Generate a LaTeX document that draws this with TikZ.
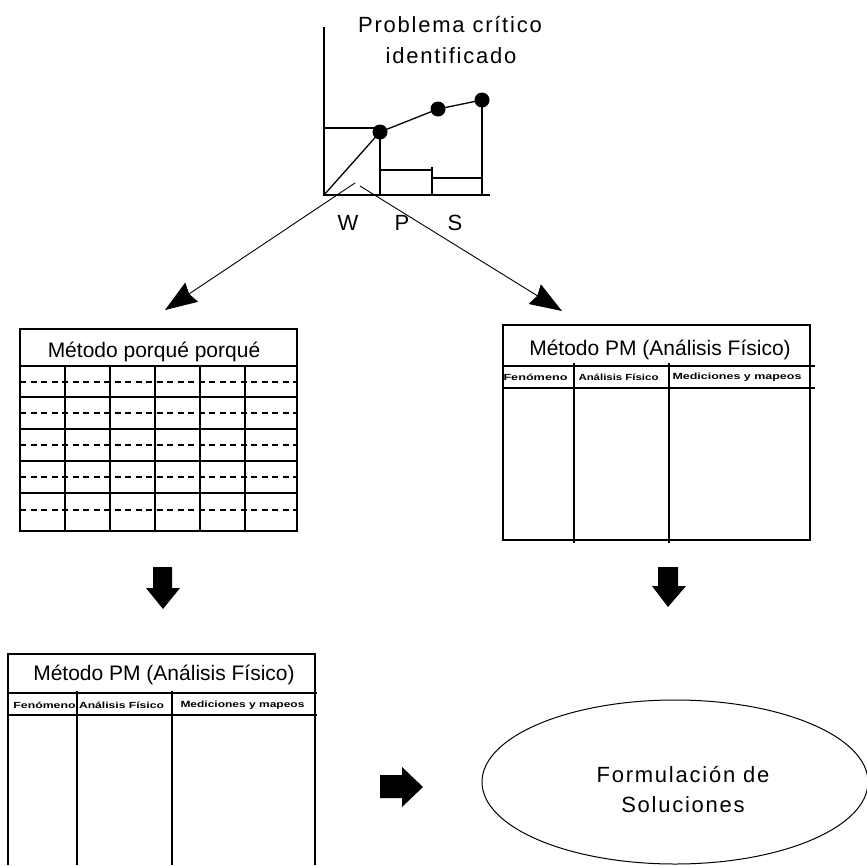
\documentclass[tikz,border=0pt]{standalone}
\usepackage{fontspec}
\setmainfont{Liberation Sans}
\newfontfamily\spacedsans[LetterSpace=8]{Liberation Sans}
\usetikzlibrary{arrows.meta,shapes.geometric}

% tiny stretched header text of the analysis tables
\newcommand{\hdrtext}[2]{\resizebox{#1}{6.5pt}{\bfseries #2}}

\begin{document}
\begin{tikzpicture}[x=1pt,y=-1pt,
  gridline/.style={line width=1.6pt},
  chartline/.style={line width=1.3pt},
  rowdash/.style={line width=1.2pt,dash pattern=on 6pt off 4.5pt},
  conn/.style={line width=0.9pt,-{Stealth[length=32pt,width=23pt,inset=3pt]}},
  dotmark/.style={circle,fill=black,inner sep=0pt,minimum size=15pt},
  ttl/.style={font=\fontsize{21}{25}\selectfont,inner sep=0pt,anchor=base},
  bigtxt/.style={font=\spacedsans\fontsize{22}{26}\selectfont,inner sep=0pt,anchor=base},
  hdr/.style={inner sep=0pt},
  blockarrow/.style={fill=black}]

\useasboundingbox (0,0) rectangle (867,865);

% ---------- chart of the critical problem ----------
\node[bigtxt] (prob1) at (450,32) {Problema crítico};
\node[bigtxt] (prob2) at (451,63) {identificado};

\coordinate (O) at (324,195);
\draw[chartline] (324,27) -- (O) -- (490,195);
\node[dotmark] (d1) at (380,132) {};
\node[dotmark] (d2) at (438,109) {};
\node[dotmark] (d3) at (482,100) {};
\draw[chartline] (324,128) -- (380,128);
\draw[chartline] (O) -- (d1.center) -- (d2.center) -- (d3.center);
\draw[chartline] (d1.center) -- (380,195);
\draw[chartline] (d3.center) -- (482,195);
\draw[chartline] (380,170) -- (432,170);
\draw[chartline] (432,167) -- (432,195);
\draw[chartline] (432,178) -- (482,178);

\node[bigtxt] (W) at (348,230) {W};
\node[bigtxt] (P) at (402,230) {P};
\node[bigtxt] (S) at (455,230) {S};

% ---------- branch arrows ----------
\coordinate (lstart) at (355,183);
\coordinate (ltip) at (165,310);
\coordinate (rstart) at (360,186);
\coordinate (rtip) at (562,311);
\draw[conn] (lstart) -- (ltip);
\draw[conn] (rstart) -- (rtip);

% ---------- why-why table ----------
\draw[gridline] (20,329) rectangle (297,531);
\foreach \y in {366,397,429,461,493} \draw[gridline] (20,\y) -- (297,\y);
\foreach \x in {65,110,155,200,245} \draw[gridline] (\x,366) -- (\x,531);
\foreach \y in {382,413,445,477,510} \draw[rowdash] (20,\y) -- (297,\y);
\node[ttl] (why) at (154,357) {Método porqué porqué};

% ---------- PM analysis table (right) ----------
\draw[gridline] (503,325) rectangle (810,540);
\draw[gridline] (503,366) -- (815,366);
\draw[gridline] (503,388) -- (815,388);
\draw[gridline] (574,363) -- (574,543);
\draw[gridline] (669,363) -- (669,543);
\node[ttl] (pmr) at (660,355) {Método PM (Análisis Físico)};
\node[hdr] (pmrA) at (535.5,377) {\hdrtext{64pt}{Fenómeno}};
\node[hdr] (pmrB) at (618.5,377) {\hdrtext{80pt}{Análisis Físico}};
\node[hdr] (pmrC) at (737,377) {\hdrtext{129pt}{Mediciones y mapeos}};

% ---------- PM analysis table (bottom left) ----------
\draw[gridline] (8,865) -- (8,654) -- (315,654) -- (315,865);
\draw[gridline] (8,693) -- (317,693);
\draw[gridline] (8,715) -- (317,715);
\draw[gridline] (77,691) -- (77,865);
\draw[gridline] (172,691) -- (172,865);
\node[ttl] (pml) at (164,680) {Método PM (Análisis Físico)};
\node[hdr] (pmlA) at (44.5,705) {\hdrtext{62pt}{Fenómeno}};
\node[hdr] (pmlB) at (121.5,705) {\hdrtext{85pt}{Análisis Físico}};
\node[hdr] (pmlC) at (242.5,705) {\hdrtext{124pt}{Mediciones y mapeos}};

% ---------- block arrows ----------
\fill[blockarrow] (153,567) -- (172,567) -- (172,588) -- (180,588) -- (163,609)
  -- (146,588) -- (153,588) -- cycle;
\fill[blockarrow] (658,567) -- (678,567) -- (678,586) -- (686,586) -- (668,607)
  -- (652,586) -- (658,586) -- cycle;
\fill[blockarrow] (380,775) -- (402,775) -- (402,767) -- (423,787) -- (402,807)
  -- (402,798) -- (380,798) -- cycle;

% ---------- solutions ----------
\node[draw,ellipse,line width=1pt,minimum width=386pt,minimum height=164pt,
  inner sep=0pt] (sol) at (675,782) {};
\node[bigtxt] (sol1) at (683,782) {Formulación de};
\node[bigtxt] (sol2) at (683,812) {Soluciones};
\end{tikzpicture}
\end{document}
